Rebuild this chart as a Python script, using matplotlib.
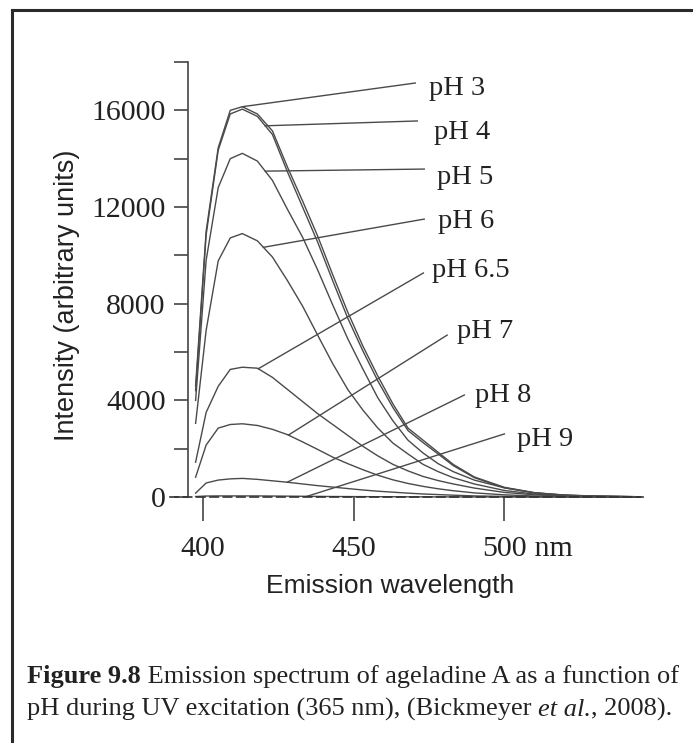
import numpy as np
import matplotlib
matplotlib.use("Agg")
import matplotlib.pyplot as plt
from matplotlib.lines import Line2D
from matplotlib.ticker import FixedLocator

# Emissionsspektren
wavelength = [397.5, 401, 405, 409, 413, 418, 423, 428, 433, 438, 443, 448, 453,
              458, 463, 468, 473, 478, 483, 490, 500, 510, 520, 530, 545]

ph3 = [4600, 11000, 14450, 16000, 16150, 15850, 15150, 13650, 12250, 10800, 9200, 7650, 6250,
       5000, 3850, 2850, 2350, 1850, 1350, 830, 400, 180, 80, 40, 10]
ph4 = [4400, 10850, 14350, 15850, 16050, 15750, 15000, 13450, 12000, 10550, 8950, 7400, 6050,
       4800, 3700, 2750, 2250, 1780, 1300, 800, 380, 170, 75, 35, 10]
ph5 = [4000, 9800, 12800, 14000, 14220, 13900, 13100, 11900, 10750, 9400, 7950, 6550, 5300,
       4100, 3150, 2350, 1820, 1380, 1050, 700, 380, 170, 75, 35, 10]
ph6 = [3050, 6900, 9770, 10720, 10900, 10600, 9930, 8950, 7900, 6700, 5520, 4450, 3600,
       2850, 2230, 1780, 1350, 1050, 800, 540, 270, 120, 55, 25, 8]
ph65 = [1440, 3500, 4580, 5280, 5370, 5330, 4950, 4450, 3950, 3450, 3000, 2550, 2100,
        1700, 1350, 1080, 850, 680, 540, 370, 190, 90, 40, 20, 5]
ph7 = [820, 2150, 2850, 3000, 3030, 2960, 2800, 2580, 2280, 1970, 1650, 1380, 1130,
       900, 710, 560, 440, 340, 260, 170, 90, 40, 20, 10, 3]
ph8 = [160, 580, 700, 750, 770, 730, 670, 610, 540, 470, 410, 350, 290,
       240, 200, 160, 125, 100, 75, 45, 25, 12, 6, 3, 1]
ph9 = [20, 40, 45, 45, 45, 45, 40, 35, 30, 25, 20, 18, 15,
       12, 10, 8, 6, 5, 4, 3, 2, 1, 1, 0, 0]

series = [ph3, ph4, ph5, ph6, ph65, ph7, ph8, ph9]
labels = ["pH 3", "pH 4", "pH 5", "pH 6", "pH 6.5", "pH 7", "pH 8", "pH 9"]

# Beschriftungen: Wellenlaenge am Kurvenpunkt, Ende der Hinweislinie, Textposition
leader_wl = [413, 420.6, 420.6, 420, 418.3, 428.3, 427.9, 434.5]
leader_end = [(470.4, 17130), (471.1, 15560), (473.4, 13570), (473.4, 11500),
              (473.1, 9270), (481.0, 6700), (486.7, 4220), (500.0, 2610)]
label_pos = [(475.0, 16920), (476.7, 15100), (477.7, 13200), (478.0, 11380),
             (476.0, 9390), (484.3, 6830), (490.3, 4220), (504.3, 2360)]

serif = ["Liberation Serif", "DejaVu Serif"]
sans = ["Liberation Sans", "DejaVu Sans"]
grey = "#4a4a4a"
ink = "#222222"

fig = plt.figure(figsize=(6.93, 7.43), dpi=100)
W, H = 693, 743
ax = fig.add_axes([170 / W, 1 - 497 / H, (643 - 170) / W, (497 - 62) / H])

for s in series:
    ax.plot(wavelength, s, color=grey, linewidth=1.0, clip_on=False)

for s, lab, wl, end, pos in zip(series, labels, leader_wl, leader_end, label_pos):
    y0 = np.interp(wl, wavelength, s)
    ax.plot([wl, end[0]], [y0, end[1]], color=grey, linewidth=1.0, clip_on=False)
    ax.text(pos[0], pos[1], lab, family=serif, fontsize=20.5, color=ink,
            ha="left", va="center")

ax.set_xlim(389, 546)
ax.set_ylim(0, 18000)

for side in ["top", "right"]:
    ax.spines[side].set_visible(False)
ax.spines["left"].set_position(("data", 395))
ax.spines["left"].set_bounds(0, 18000)
ax.spines["left"].set_color("#444444")
ax.spines["left"].set_linewidth(1.2)
ax.spines["bottom"].set_linestyle((0, (5, 3)))
ax.spines["bottom"].set_color("#333333")
ax.spines["bottom"].set_linewidth(1.2)

ax.set_yticks([0, 4000, 8000, 12000, 16000])
ax.yaxis.set_minor_locator(FixedLocator([2000, 6000, 10000, 14000, 18000]))
ax.set_yticklabels(["0", "4000", "8000", "12000", "16000"], family=serif, fontsize=21.5,
                   color=ink)
ax.tick_params(axis="y", which="both", direction="out", length=10, width=1.2,
               color="#444444", pad=6)

ax.set_xticks([400, 450, 500])
xlabs = ax.set_xticklabels(["400", "450", "500"], family=serif, fontsize=21.5, color=ink)
ax.tick_params(axis="x", direction="out", length=17, width=1.2, color="#444444", pad=11)
# "nm" an die Grundlinie der letzten Tick-Beschriftung haengen
ax.annotate(" nm", xy=(1, 0), xycoords=xlabs[-1], xytext=(0, 0),
            textcoords="offset pixels", family=serif, fontsize=21.5, color=ink,
            ha="left", va="bottom", annotation_clip=False)

fig.text(67 / W, 1 - 295 / H, "Intensity (arbitrary units)", family=sans, fontsize=19.5,
         rotation=90, ha="center", va="center", color=ink)
fig.text(390 / W, 1 - 586 / H, "Emission wavelength", family=sans, fontsize=19,
         ha="center", va="center", color=ink)

# Rahmen
fig.add_artist(Line2D([12.5 / W, 12.5 / W], [0, 1 - 9.5 / H], transform=fig.transFigure,
                      color="#2a2a2a", linewidth=2.2))
fig.add_artist(Line2D([12.5 / W, 1], [1 - 9.5 / H, 1 - 9.5 / H], transform=fig.transFigure,
                      color="#2a2a2a", linewidth=2.2))

# Bildunterschrift
cap = 19
t1 = fig.text(27 / W, 1 - 683 / H, "Figure 9.8", family=serif, fontweight="bold",
              fontsize=cap, color=ink, va="baseline")
ax.annotate(" Emission spectrum of ageladine A as a function of", xy=(1, 0),
            xycoords=t1, family=serif, fontsize=cap, color=ink,
            va="bottom", annotation_clip=False)

t2 = fig.text(27 / W, 1 - 716 / H, "pH during UV excitation (365 nm), (Bickmeyer ",
              family=serif, fontsize=cap, color=ink, va="baseline")
t3 = ax.annotate("et al.", xy=(1, 0), xycoords=t2, family=serif, style="italic",
                 fontsize=cap, color=ink, va="bottom", annotation_clip=False)
ax.annotate(", 2008).", xy=(1, 0), xycoords=t3, family=serif, fontsize=cap,
            color=ink, va="bottom", annotation_clip=False)

fig.savefig("out.png", dpi=100)
